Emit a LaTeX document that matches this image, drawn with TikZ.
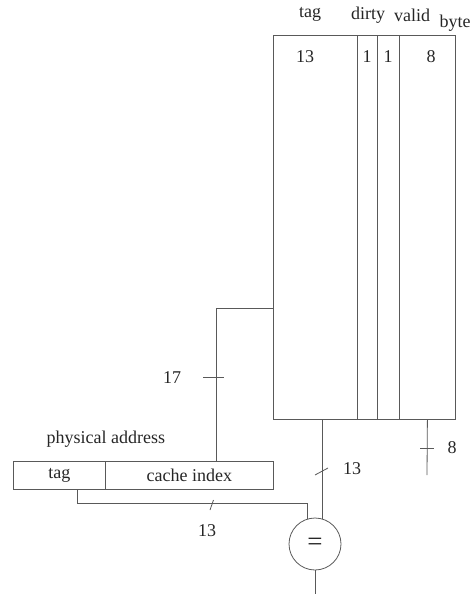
\documentclass[tikz,border=0pt]{standalone}
\usepackage{fontspec}
\setmainfont{Liberation Serif}
\usetikzlibrary{positioning}

\begin{document}
\begin{tikzpicture}[
  x=1pt,y=-1pt,
  line width=0.8pt,
  color=black!65,
  every node/.style={font=\fontsize{18}{20}\selectfont,text=black!85},
  field/.style={draw,rectangle,inner sep=0pt,anchor=north west},
  cmpnode/.style={draw,circle,minimum size=52pt,inner sep=0pt}
]
  \useasboundingbox (0,0) rectangle (476,594);
  % cache line fields
  \node[field,minimum width=84,minimum height=384] (tagcol) at (273,35) {};
  \node[field,minimum width=20,minimum height=384] (dirtycol) at (357,35) {};
  \node[field,minimum width=22,minimum height=384] (validcol) at (377,35) {};
  \node[field,minimum width=56,minimum height=384] (bytecol) at (399,35) {};
  % field names and widths
  \node (tagname) at (310,14) {tag};
  \node (dirtyname) at (368,15) {dirty};
  \node (validname) at (412,15) {valid};
  \node (bytename) at (455,23) {byte};
  \node (tagbits) at (305,57) {13};
  \node (dirtybits) at (367,57) {1};
  \node (validbits) at (388,57) {1};
  \node (bytebits) at (431,57) {8};
  % physical address
  \node[field,minimum width=92,minimum height=28] (addrtag) at (13,461) {};
  \node[field,minimum width=168,minimum height=28] (addrindex) at (105,461) {};
  \node at (addrtag.center) {tag};
  \node at (addrindex.center) {cache index};
  \node[above=10pt of addrtag.north east,anchor=south] (addrname) {physical address};
  % comparator
  \node[cmpnode] (cmp) at (315,544) {};
  \node[font=\fontsize{27}{27}\selectfont] at (cmp.center) {=};
  \coordinate (out) at (315,594);
  % index into the cache
  \coordinate (tap) at (273,308);
  \coordinate (bend) at (216,308);
  \draw (tap) -- (bend) -- (bend |- addrindex.north);
  \draw (203,377) -- (224,377);
  \node (idxbits) at (172,378) {17};
  % tag to comparator
  \draw (cmp.74 |- tagcol.south) -- (cmp.74);
  \draw (315,475) -- (328,468);
  \node (tagoutbits) at (352,469) {13};
  \draw ([xshift=18pt]addrtag.south) -- ++(0,14) -| (cmp.106);
  \draw (210,510) -- (213.5,500);
  \node (addrtagbits) at (207,531) {13};
  % byte out
  \coordinate (byteout) at (427,475);
  \draw (bytecol.south) -- (byteout);
  \draw (420,448) -- (434,448);
  \node (byteoutbits) at (452,448) {8};
  % result
  \draw (cmp.south) -- (out);
\end{tikzpicture}
\end{document}
